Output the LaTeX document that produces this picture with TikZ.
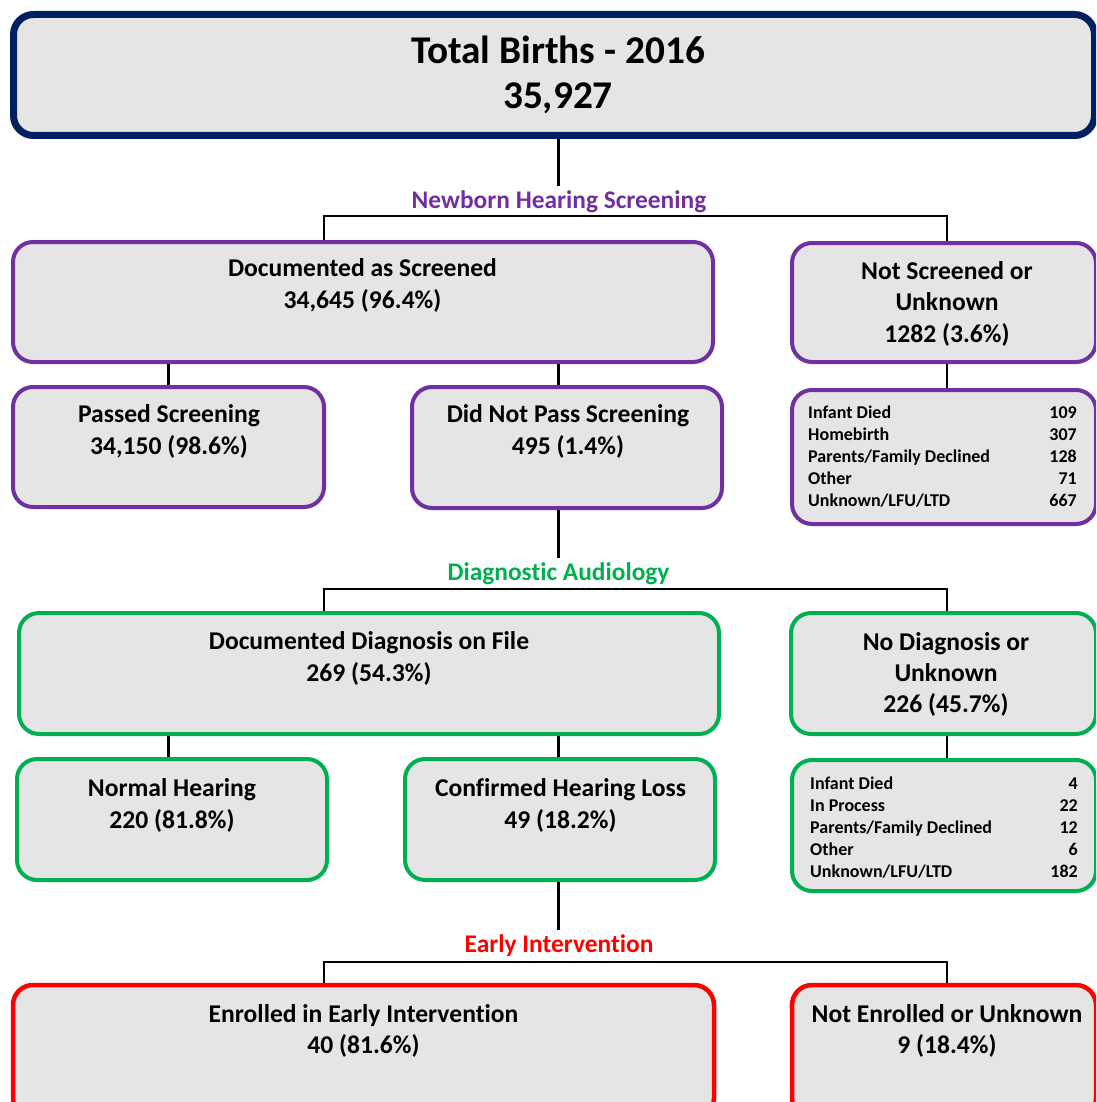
\documentclass[tikz,border=0pt]{standalone}
\usepackage{fontspec}
\setmainfont{Carlito}[Ligatures={NoCommon}]
\definecolor{navy}{HTML}{002060}
\definecolor{purp}{HTML}{7030A0}
\definecolor{grn}{HTML}{00B050}
\definecolor{redc}{HTML}{FF0000}
\definecolor{boxfill}{HTML}{E5E5E5}
\tikzset{
  bx/.style={draw=#1, fill=boxfill, rounded corners=20pt, inner sep=0pt, line width=4pt},
  conn/.style={draw=black, line width=2.8pt},
  big/.style={font=\fontsize{39.3}{40}\selectfont\bfseries, anchor=base, inner sep=0pt},
  txt/.style={font=\fontsize{25.6}{27}\selectfont\bfseries, anchor=base, inner sep=0pt},
  sec/.style={font=\fontsize{25.4}{27}\selectfont\bfseries, anchor=base, inner sep=0pt, text=#1},
  sl/.style={font=\fontsize{18}{20}\selectfont\bfseries, anchor=base west, inner sep=0pt},
  sr/.style={font=\fontsize{18}{20}\selectfont\bfseries, anchor=base east, inner sep=0pt},
}
\begin{document}
\begin{tikzpicture}[x=1pt,y=-1pt]
\useasboundingbox (0,0) rectangle (1096,1102);
\clip (0,0) rectangle (1096,1102);
% boxes
\node[bx=navy, line width=7pt, minimum width=1081pt, minimum height=121pt] (total) at (554,75) {};
\node[bx=purp, minimum width=700pt, minimum height=120pt] (docS) at (363,302) {};
\node[bx=purp, minimum width=304pt, minimum height=119pt] (notS) at (944,302.5) {};
\node[bx=purp, minimum width=311pt, minimum height=120pt] (passed) at (168.5,447) {};
\node[bx=purp, minimum width=310pt, minimum height=121pt] (dnp) at (567,447.5) {};
\node[bx=purp, minimum width=304pt, minimum height=134pt] (nsd) at (944,457) {};
\node[bx=grn, minimum width=700pt, minimum height=121pt] (docD) at (369,673.5) {};
\node[bx=grn, minimum width=305pt, minimum height=121pt] (noD) at (943.5,673.5) {};
\node[bx=grn, minimum width=310pt, minimum height=121pt] (normal) at (172,819.5) {};
\node[bx=grn, minimum width=310pt, minimum height=121pt] (chl) at (560,819.5) {};
\node[bx=grn, minimum width=304pt, minimum height=131pt] (ndd) at (944,825.5) {};
\node[bx=redc, line width=4.5pt, minimum width=701pt, minimum height=133pt] (enr) at (363.5,1051.5) {};
\node[bx=redc, line width=4.5pt, minimum width=304pt, minimum height=133pt] (notE) at (944,1051.5) {};
% section labels
\node[sec=purp] (nhs) at (559,208) {Newborn Hearing Screening};
\node[sec=grn] (da) at (558.5,580) {Diagnostic Audiology};
\node[sec=redc] (ei) at (559,952) {Early Intervention};
% bracket coordinates
\coordinate (b1L) at (324,216); \coordinate (b1R) at (947,216);
\coordinate (b2L) at (324,589); \coordinate (b2R) at (947,589);
\coordinate (b3L) at (324,962); \coordinate (b3R) at (947,962);
% connectors
\draw[conn] (total.south -| da) -- ([yshift=4pt]nhs.north -| da);
\draw[conn] (docS.north -| b1L) -- (b1L) -- (b1R) -- (notS.north -| b1R);
\draw[conn] (docS.south -| passed) -- (passed.north -| passed);
\draw[conn] (docS.south -| da) -- (dnp.north -| da);
\draw[conn] (notS.south -| b1R) -- (nsd.north -| b1R);
\draw[conn] (dnp.south -| da) -- ([yshift=4pt]da.north);
\draw[conn] (docD.north -| b2L) -- (b2L) -- (b2R) -- (noD.north -| b2R);
\draw[conn] (docD.south -| passed) -- (normal.north -| passed);
\draw[conn] (docD.south -| da) -- (chl.north -| da);
\draw[conn] (noD.south -| b2R) -- (ndd.north -| b2R);
\draw[conn] (chl.south -| da) -- ([yshift=4pt]ei.north -| da);
\draw[conn] (enr.north -| b3L) -- (b3L) -- (b3R) -- (notE.north -| b3R);
% texts
\node[big] (t1) at (558,64) {Total Births - 2016};
\node[big] (t2) at (558,109) {35,927};
\node[txt] (docS1) at (362.5,276) {Documented as Screened};
\node[txt] (docS2) at (362.5,308) {34,645 (96.4\%)};
\node[txt] (notS1) at (947,279) {Not Screened or};
\node[txt] (notS2) at (947,310) {Unknown};
\node[txt] (notS3) at (947,342) {1282 (3.6\%)};
\node[txt] (pas1) at (169,422) {Passed Screening};
\node[txt] (pas2) at (169,454) {34,150 (98.6\%)};
\node[txt] (dnp1) at (568,422) {Did Not Pass Screening};
\node[txt] (dnp2) at (568,454) {495 (1.4\%)};
\node[sl] (nsl1) at (808,418) {Infant Died};
\node[sl] (nsl2) at (808,440) {Homebirth};
\node[sl] (nsl3) at (808,462) {Parents/Family Declined};
\node[sl] (nsl4) at (808,484) {Other};
\node[sl] (nsl5) at (808,506) {Unknown/LFU/LTD};
\node[sr] (nsr1) at (1077,418) {109};
\node[sr] (nsr2) at (1077,440) {307};
\node[sr] (nsr3) at (1077,462) {128};
\node[sr] (nsr4) at (1077,484) {71};
\node[sr] (nsr5) at (1077,506) {667};
\node[txt] (docD1) at (369,649) {Documented Diagnosis on File};
\node[txt] (docD2) at (369,681) {269 (54.3\%)};
\node[txt] (noD1) at (946,650) {No Diagnosis or};
\node[txt] (noD2) at (946,681) {Unknown};
\node[txt] (noD3) at (946,712) {226 (45.7\%)};
\node[txt] (nor1) at (172,796) {Normal Hearing};
\node[txt] (nor2) at (172,828) {220 (81.8\%)};
\node[txt] (chl1) at (560.5,796) {Confirmed Hearing Loss};
\node[txt] (chl2) at (560.5,828) {49 (18.2\%)};
\node[sl] (ndl1) at (810,789) {Infant Died};
\node[sl] (ndl2) at (810,811) {In Process};
\node[sl] (ndl3) at (810,833) {Parents/Family Declined};
\node[sl] (ndl4) at (810,855) {Other};
\node[sl] (ndl5) at (810,877) {Unknown/LFU/LTD};
\node[sr] (ndr1) at (1078,789) {4};
\node[sr] (ndr2) at (1078,811) {22};
\node[sr] (ndr3) at (1078,833) {12};
\node[sr] (ndr4) at (1078,855) {6};
\node[sr] (ndr5) at (1078,877) {182};
\node[txt] (enr1) at (363.5,1022) {Enrolled in Early Intervention};
\node[txt] (enr2) at (363.5,1053) {40 (81.6\%)};
\node[txt] (ne1) at (947,1022) {Not Enrolled or Unknown};
\node[txt] (ne2) at (947,1053) {9 (18.4\%)};
\end{tikzpicture}
\end{document}
